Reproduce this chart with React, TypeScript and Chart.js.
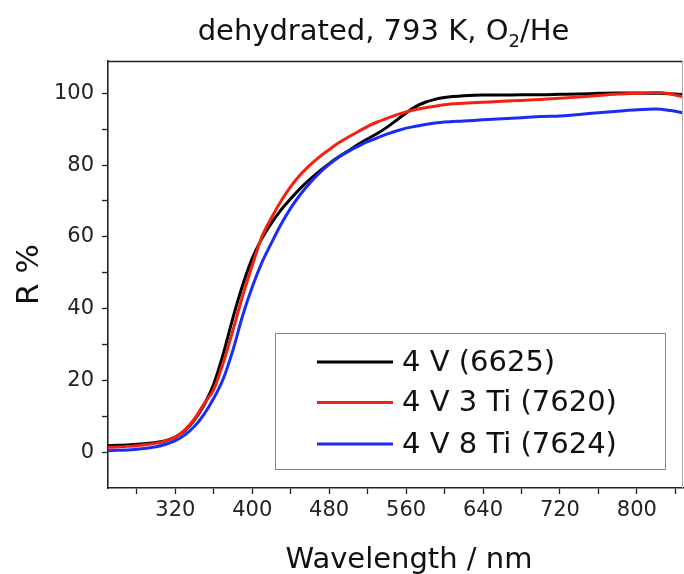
import React, { useEffect, useRef } from "react";
import { Chart, registerables } from "chart.js";

Chart.register(...registerables);

// ---- data ----
const wavelengths = [
  250, 260, 270, 280, 290, 300, 310, 320, 330, 340, 350, 360, 370, 380, 390, 400,
  410, 420, 430, 440, 450, 460, 470, 480, 490, 500, 510, 520, 530, 540, 550, 560,
  570, 580, 590, 600, 620, 640, 660, 680, 700, 720, 740, 760, 780, 800, 820, 835, 848,
];
const r6625 = [
  1.8, 1.9, 2.0, 2.2, 2.4, 2.7, 3.2, 4.2, 6.0, 9.0, 13.2, 19, 27.5, 37.5, 46.5, 54,
  59.5, 63.8, 67.5, 70.6, 73.5, 76, 78.3, 80.4, 82.3, 84, 85.7, 87.3, 88.8, 90.5, 92.5, 94.5,
  96.3, 97.5, 98.3, 98.8, 99.3, 99.5, 99.5, 99.6, 99.6, 99.7, 99.8, 100, 100.1, 100.1, 100, 99.9, 99.6,
];
const r7620 = [
  1.3, 1.4, 1.6, 1.8, 2.1, 2.5, 3.1, 4.2, 6.2, 9.3, 13.5, 17.5, 25, 34, 43.5, 52,
  60, 65.3, 70, 74, 77.3, 80, 82.3, 84.3, 86.2, 87.8, 89.3, 90.8, 92, 93, 94, 94.8,
  95.5, 96, 96.4, 96.8, 97.2, 97.5, 97.8, 98, 98.3, 98.6, 99, 99.4, 99.8, 100, 100.2, 99.8, 99,
];
const r7624 = [
  0.4, 0.5, 0.6, 0.8, 1.1, 1.5, 2.2, 3.2, 4.8, 7.2, 10.6, 15, 20.5, 28.5, 38, 46,
  52.8, 58.3, 63.5, 68, 71.8, 75, 77.8, 80.2, 82.2, 83.8, 85.2, 86.5, 87.6, 88.6, 89.5, 90.3,
  90.8, 91.3, 91.7, 92, 92.3, 92.6, 92.9, 93.2, 93.5, 93.7, 94.1, 94.6, 95, 95.4, 95.6, 95.2, 94.6,
];
const seriesLabels = ["4 V (6625)", "4 V 3 Ti (7620)", "4 V 8 Ti (7624)"];
const seriesColors = ["#000000", "#f5200f", "#1a2cf5"];
const xMajorTicks = [320, 400, 480, 560, 640, 720, 800];
const xMinorTicks = [280, 360, 440, 520, 600, 680, 760, 840];
const yMajorTicks = [0, 20, 40, 60, 80, 100];
const yMinorTicks = [10, 30, 50, 70, 90];
const titleMain = "dehydrated, 793 K, O";
const titleSub = "2";
const titleEnd = "/He";
const xTitle = "Wavelength / nm";
const yTitle = "R %";

const FONT = '"DejaVu Sans", "Liberation Sans", sans-serif';

const decorPlugin = {
  id: "decor",
  afterDraw(chart: any) {
    const { ctx, chartArea: a } = chart;
    ctx.save();
    // frame top & right
    ctx.strokeStyle = "#222";
    ctx.lineWidth = 1.3;
    ctx.beginPath();
    ctx.moveTo(a.left, a.top + 0.5);
    ctx.lineTo(a.right, a.top + 0.5);
    ctx.stroke();
    ctx.strokeStyle = "#aaa";
    ctx.lineWidth = 1;
    ctx.beginPath();
    ctx.moveTo(a.right - 0.5, a.top);
    ctx.lineTo(a.right - 0.5, a.bottom);
    ctx.stroke();

    // title with subscript
    ctx.fillStyle = "#111";
    ctx.textBaseline = "alphabetic";
    ctx.textAlign = "left";
    ctx.font = `29px ${FONT}`;
    const w1 = ctx.measureText(titleMain).width;
    const w3 = ctx.measureText(titleEnd).width;
    ctx.font = `18px ${FONT}`;
    const w2 = ctx.measureText(titleSub).width;
    let x = 383.5 - (w1 + w2 + w3) / 2;
    ctx.font = `29px ${FONT}`;
    ctx.fillText(titleMain, x, 39.5);
    x += w1;
    ctx.font = `18px ${FONT}`;
    ctx.fillText(titleSub, x, 47);
    x += w2;
    ctx.font = `29px ${FONT}`;
    ctx.fillText(titleEnd, x, 39.5);

    // x-axis title
    ctx.font = `29px ${FONT}`;
    ctx.textAlign = "center";
    ctx.fillText(xTitle, 409, 568);

    // legend box
    ctx.textAlign = "left";
    const bx = 275, by = 333, bw = 390, bh = 136;
    ctx.fillStyle = "#ffffff";
    ctx.fillRect(bx, by, bw, bh);
    ctx.strokeStyle = "#8a8a8a";
    ctx.lineWidth = 1;
    ctx.strokeRect(bx + 0.5, by + 0.5, bw, bh);
    const rows = [362, 402.5, 444];
    chart.data.datasets.forEach((ds: any, i: number) => {
      const y = rows[i];
      ctx.strokeStyle = ds.borderColor;
      ctx.lineWidth = 3;
      ctx.beginPath();
      ctx.moveTo(317, y);
      ctx.lineTo(393, y);
      ctx.stroke();
      ctx.fillStyle = "#111";
      ctx.font = `29px ${FONT}`;
      ctx.textBaseline = "middle";
      ctx.fillText(ds.label, 402, y + 1);
    });
    ctx.restore();
  },
};

export default function App() {
  const ref = useRef<HTMLCanvasElement | null>(null);
  useEffect(() => {
    if (!ref.current) return;
    const series = [r6625, r7620, r7624];
    const orders = [2, 1, 0];
    const chart = new Chart(ref.current, {
      type: "line",
      data: {
        datasets: series.map((s, i) => ({
          label: seriesLabels[i],
          data: wavelengths.map((w, j) => ({ x: w, y: s[j] })),
          borderColor: seriesColors[i],
          backgroundColor: seriesColors[i],
          borderWidth: 3,
          pointRadius: 0,
          cubicInterpolationMode: "monotone" as const,
          fill: false,
          order: orders[i],
        })),
      },
      options: {
        responsive: false,
        animation: false,
        layout: { padding: { top: 61, right: 1, left: 0, bottom: 0 } },
        plugins: {
          legend: { display: false },
          title: { display: false },
          tooltip: { enabled: false },
        },
        scales: {
          x: {
            type: "linear",
            min: 250,
            max: 848,
            afterBuildTicks: (scale: any) => {
              scale.ticks = [...xMajorTicks, ...xMinorTicks]
                .sort((p, q) => p - q)
                .map((v) => ({ value: v }));
            },
            afterFit: (scale: any) => {
              scale.height = 86;
            },
            ticks: {
              autoSkip: false,
              maxRotation: 0,
              padding: 4,
              color: "#222",
              font: { family: FONT, size: 21 },
              callback: (v: any) => (xMajorTicks.includes(Number(v)) ? String(v) : ""),
            },
            grid: {
              drawOnChartArea: false,
              drawTicks: true,
              tickLength: 6,
              tickColor: "#222",
              tickWidth: 1.3,
            },
            border: { display: true, color: "#222", width: 1.6 },
            title: { display: false, text: xTitle },
          },
          y: {
            type: "linear",
            min: -10,
            max: 109,
            afterBuildTicks: (scale: any) => {
              scale.ticks = [...yMajorTicks, ...yMinorTicks]
                .sort((p, q) => p - q)
                .map((v) => ({ value: v }));
            },
            afterFit: (scale: any) => {
              scale.width = 108;
            },
            ticks: {
              autoSkip: false,
              padding: 8,
              color: "#222",
              font: { family: FONT, size: 21 },
              callback: (v: any) => (yMajorTicks.includes(Number(v)) ? String(v) : ""),
            },
            grid: {
              drawOnChartArea: false,
              drawTicks: true,
              tickLength: 6,
              tickColor: "#222",
              tickWidth: 1.3,
            },
            border: { display: true, color: "#222", width: 1.6 },
            title: {
              display: true,
              text: yTitle,
              color: "#111",
              font: { family: FONT, size: 31 },
              padding: { top: 11, bottom: 11 },
            },
          },
        },
      },
      plugins: [decorPlugin],
    });
    return () => chart.destroy();
  }, []);
  return (
    <div style={{ position: "fixed", left: 0, top: 0, width: 684, height: 574, background: "#fff" }}>
      <canvas ref={ref} width={684} height={574} style={{ display: "block" }} />
    </div>
  );
}
